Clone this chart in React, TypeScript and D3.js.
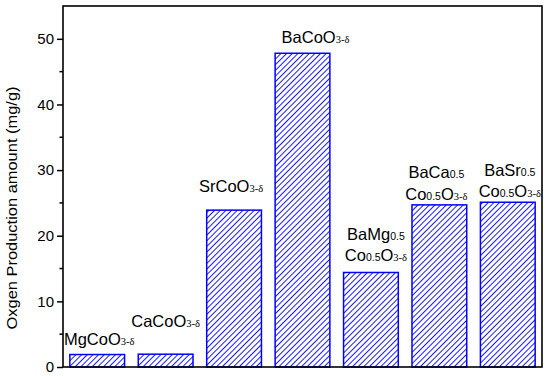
import * as d3 from "d3"
import { useLayoutEffect, useRef } from "react"

const categories = ["Mg", "Ca", "Sr", "Ba", "BaMg", "BaCa", "BaSr"]
const values = [1.9, 1.95, 23.9, 47.8, 14.4, 24.7, 25.1]
const yTicks = [0, 10, 20, 30, 40, 50]
const yMinorTicks = [5, 15, 25, 35, 45]

// label lines: each segment is [text, isSub, serif]
type Seg = [string, boolean, boolean]
const labels: Seg[][][] = [
  [[["MgCoO", false, false], ["3-δ", true, true]]],
  [[["CaCoO", false, false], ["3-δ", true, true]]],
  [[["SrCoO", false, false], ["3-δ", true, true]]],
  [[["BaCoO", false, false], ["3-δ", true, true]]],
  [
    [["BaMg", false, false], ["0.5", true, false]],
    [["Co", false, false], ["0.5", true, false], ["O", false, false], ["3-δ", true, true]],
  ],
  [
    [["BaCa", false, false], ["0.5", true, false]],
    [["Co", false, false], ["0.5", true, false], ["O", false, false], ["3-δ", true, true]],
  ],
  [
    [["BaSr", false, false], ["0.5", true, false]],
    [["Co", false, false], ["0.5", true, false], ["O", false, false], ["3-δ", true, true]],
  ],
]
// where the labels were dropped in the original: gap above bar top, shift from bar centre
const labelLift = [10, 27, 18, 10, 11, 5, 5]
const labelShift = [2, 0, -3, 13, 5, -3, 2]

export default function App() {
  const ref = useRef<SVGSVGElement>(null)

  useLayoutEffect(() => {
    const svg = d3.select(ref.current)
    svg.selectAll("*").remove()

    const left = 63, right = 542, top = 6, bottom = 367
    const font = "Liberation Sans, Arial, sans-serif"

    const x = d3.scaleBand().domain(categories).range([left, right]).paddingInner(0.2).paddingOuter(0.1)
    const y = d3.scaleLinear().domain([0, 55]).range([bottom, top])

    const pat = svg
      .append("defs")
      .append("pattern")
      .attr("id", "hatch")
      .attr("patternUnits", "userSpaceOnUse")
      .attr("width", 4)
      .attr("height", 4)
      .attr("patternTransform", "rotate(45)")
    pat.append("rect").attr("width", 4).attr("height", 4).attr("fill", "#fff")
    pat.append("line").attr("x1", 0).attr("y1", 0).attr("x2", 0).attr("y2", 4).attr("stroke", "#1a1aff").attr("stroke-width", 2)

    svg
      .selectAll(".bar")
      .data(values)
      .enter()
      .append("rect")
      .attr("x", (_, i) => x(categories[i])!)
      .attr("y", (d) => y(d))
      .attr("width", x.bandwidth())
      .attr("height", (d) => bottom - y(d))
      .attr("fill", "url(#hatch)")
      .attr("stroke", "#0000ff")
      .attr("stroke-width", 1.5)

    labels.forEach((lines, i) => {
      const cx = x(categories[i])! + x.bandwidth() / 2 + labelShift[i]
      const base = y(values[i]) - labelLift[i]
      lines.forEach((segs, j) => {
        const t = svg
          .append("text")
          .attr("x", cx)
          .attr("y", base - (lines.length - 1 - j) * 21.5)
          .attr("text-anchor", "middle")
          .attr("font-family", font)
          .attr("font-size", 16.5)
          .attr("fill", "#000")
        segs.forEach(([s, sub, serif]) => {
          const ts = t.append("tspan").text(s)
          if (sub) {
            ts.attr("font-size", 10.5)
            if (serif) ts.attr("font-family", "Liberation Serif, Times New Roman, serif")
          }
        })
      })
    })

    svg
      .append("rect")
      .attr("x", left)
      .attr("y", top)
      .attr("width", right - left)
      .attr("height", bottom - top)
      .attr("fill", "none")
      .attr("stroke", "#000")
      .attr("stroke-width", 1.6)

    const yAxis = svg
      .append("g")
      .attr("transform", `translate(${left},0)`)
      .call(d3.axisLeft(y).tickValues(yTicks).tickSize(6).tickPadding(3).tickFormat((d) => String(d)))
    yAxis.select(".domain").remove()
    yAxis.selectAll("line").attr("stroke", "#000").attr("stroke-width", 1.5)
    yAxis.selectAll("text").attr("font-family", font).attr("font-size", 15).attr("fill", "#000")

    svg
      .append("g")
      .selectAll("line")
      .data(yMinorTicks)
      .enter()
      .append("line")
      .attr("x1", left - 3.5)
      .attr("x2", left)
      .attr("y1", (d) => y(d))
      .attr("y2", (d) => y(d))
      .attr("stroke", "#000")
      .attr("stroke-width", 1.5)

    svg
      .append("text")
      .attr("transform", `translate(17,208) rotate(-90)`)
      .attr("text-anchor", "middle")
      .attr("font-family", font)
      .attr("font-size", 15)
      .attr("textLength", 243)
      .attr("lengthAdjust", "spacingAndGlyphs")
      .attr("fill", "#000")
      .text("Oxgen Production amount (mg/g)")
  }, [])

  return (
    <svg
      ref={ref}
      width={550}
      height={376}
      style={{ position: "absolute", left: 0, top: 0, background: "#fff" }}
    />
  )
}
